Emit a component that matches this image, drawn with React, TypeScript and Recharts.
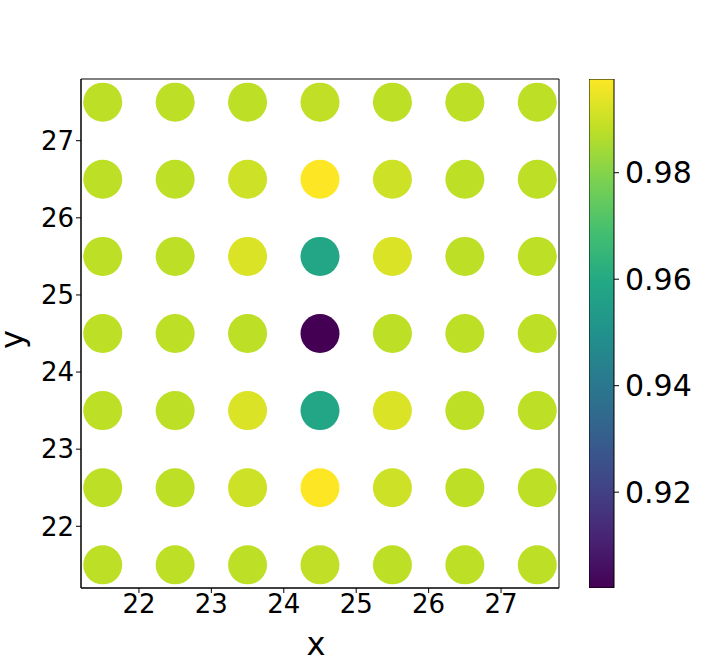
import React from "react";
import {
  ScatterChart,
  Scatter,
  XAxis,
  YAxis,
  ReferenceArea,
  BarChart,
  Bar,
} from "recharts";

// grid coordinates
const xs = [21.5, 22.5, 23.5, 24.5, 25.5, 26.5, 27.5];
const ys = [27.5, 26.5, 25.5, 24.5, 23.5, 22.5, 21.5];

// values per row (top row first)
const values = [
  [0.988, 0.988, 0.988, 0.9885, 0.988, 0.988, 0.988],
  [0.988, 0.988, 0.9905, 0.9976, 0.9905, 0.988, 0.988],
  [0.988, 0.988, 0.9925, 0.9585, 0.9925, 0.988, 0.988],
  [0.988, 0.988, 0.988, 0.902, 0.988, 0.988, 0.988],
  [0.988, 0.988, 0.9925, 0.9585, 0.9925, 0.988, 0.988],
  [0.988, 0.988, 0.9905, 0.9976, 0.9905, 0.988, 0.988],
  [0.988, 0.988, 0.988, 0.9885, 0.988, 0.988, 0.988],
];

const axisTicks = [22, 23, 24, 25, 26, 27];
const cbarTicks = [0.92, 0.94, 0.96, 0.98];
const V_MIN = 0.902;
const V_MAX = 0.9976;

const VIRIDIS = [
  "#440154", "#482475", "#414487", "#355f8d", "#2a788e", "#21918c",
  "#22a884", "#44bf70", "#7ad151", "#bddf26", "#fde725",
];

function hex(c: string) {
  return [1, 3, 5].map((i) => parseInt(c.slice(i, i + 2), 16));
}

function viridis(t: number) {
  const tt = Math.min(1, Math.max(0, t)) * (VIRIDIS.length - 1);
  const i = Math.min(VIRIDIS.length - 2, Math.floor(tt));
  const f = tt - i;
  const a = hex(VIRIDIS[i]);
  const b = hex(VIRIDIS[i + 1]);
  const m = a.map((v, k) => Math.round(v + (b[k] - v) * f));
  return `rgb(${m[0]},${m[1]},${m[2]})`;
}

const points = ys.flatMap((y, r) =>
  xs.map((x, c) => ({ x, y, v: values[r][c] }))
);

const cbarData = [{ name: "cb", range: [V_MIN, V_MAX] }];

const FONT = "DejaVu Sans";
const tickStyle = { fontSize: 26, fill: "#000", fontFamily: FONT };

function Dot(props: any) {
  const { cx, cy, payload } = props;
  const t = (payload.v - V_MIN) / (V_MAX - V_MIN);
  return <circle cx={cx} cy={cy} r={19.5} fill={viridis(t)} />;
}

// axis titles, placed from the axis box recharts hands over
function XTitle({ viewBox }: any) {
  const cx = viewBox.x + viewBox.width / 2;
  return (
    <text x={cx - 4} y={655} textAnchor="middle" fontSize={32} fontFamily={FONT} fill="#000">
      x
    </text>
  );
}

function YTitle({ viewBox }: any) {
  const cy = viewBox.y + viewBox.height / 2 + 6;
  const bx = 23;
  return (
    <text
      x={bx}
      y={cy}
      transform={`rotate(-90, ${bx}, ${cy})`}
      textAnchor="middle"
      fontSize={32}
      fontFamily={FONT}
      fill="#000"
    >
      y
    </text>
  );
}

export default function App() {
  return (
    <div style={{ position: "absolute", left: 0, top: 0, width: 718, height: 661, background: "#fff" }}>
      <div style={{ position: "absolute", left: 0, top: 0 }}>
        <ScatterChart
          width={718}
          height={661}
          margin={{ top: 79, right: 159, bottom: 0, left: 0 }}
        >
          <XAxis
            type="number"
            dataKey="x"
            domain={[21.2, 27.8]}
            ticks={axisTicks}
            allowDataOverflow
            height={73}
            tick={tickStyle}
            tickSize={5}
            tickLine={{ stroke: "#000" }}
            axisLine={{ stroke: "#000" }}
            label={{ content: XTitle }}
          />
          <YAxis
            type="number"
            dataKey="y"
            domain={[21.2, 27.8]}
            ticks={axisTicks}
            allowDataOverflow
            width={81}
            tick={tickStyle}
            tickSize={5}
            tickLine={{ stroke: "#000" }}
            axisLine={{ stroke: "#000" }}
            label={{ content: YTitle }}
          />
          <ReferenceArea
            x1={21.2}
            x2={27.8}
            y1={21.2}
            y2={27.8}
            fill="none"
            stroke="#000"
            strokeWidth={1}
          />
          <Scatter data={points} shape={Dot} isAnimationActive={false} />
        </ScatterChart>
      </div>
      <div style={{ position: "absolute", left: 589, top: 0 }}>
        <svg width={0} height={0} style={{ position: "absolute" }}>
          <defs>
            <linearGradient id="viridisGrad" x1="0" y1="1" x2="0" y2="0">
              {VIRIDIS.map((c, i) => (
                <stop key={i} offset={i / (VIRIDIS.length - 1)} stopColor={c} />
              ))}
            </linearGradient>
          </defs>
        </svg>
        <BarChart
          width={129}
          height={661}
          data={cbarData}
          margin={{ top: 79, right: 0, bottom: 73, left: 0 }}
          barCategoryGap={0}
        >
          <XAxis dataKey="name" hide />
          <YAxis
            orientation="right"
            type="number"
            domain={[V_MIN, V_MAX]}
            ticks={cbarTicks}
            allowDataOverflow
            width={104}
            tick={{ ...tickStyle, fontSize: 30, dx: 4 }}
            tickFormatter={(v: number) => v.toFixed(2)}
            tickSize={5}
            tickLine={{ stroke: "#000" }}
            axisLine={false}
          />
          <Bar
            dataKey="range"
            fill="url(#viridisGrad)"
            stroke="#000"
            strokeWidth={1}
            isAnimationActive={false}
          />
        </BarChart>
      </div>
    </div>
  );
}
